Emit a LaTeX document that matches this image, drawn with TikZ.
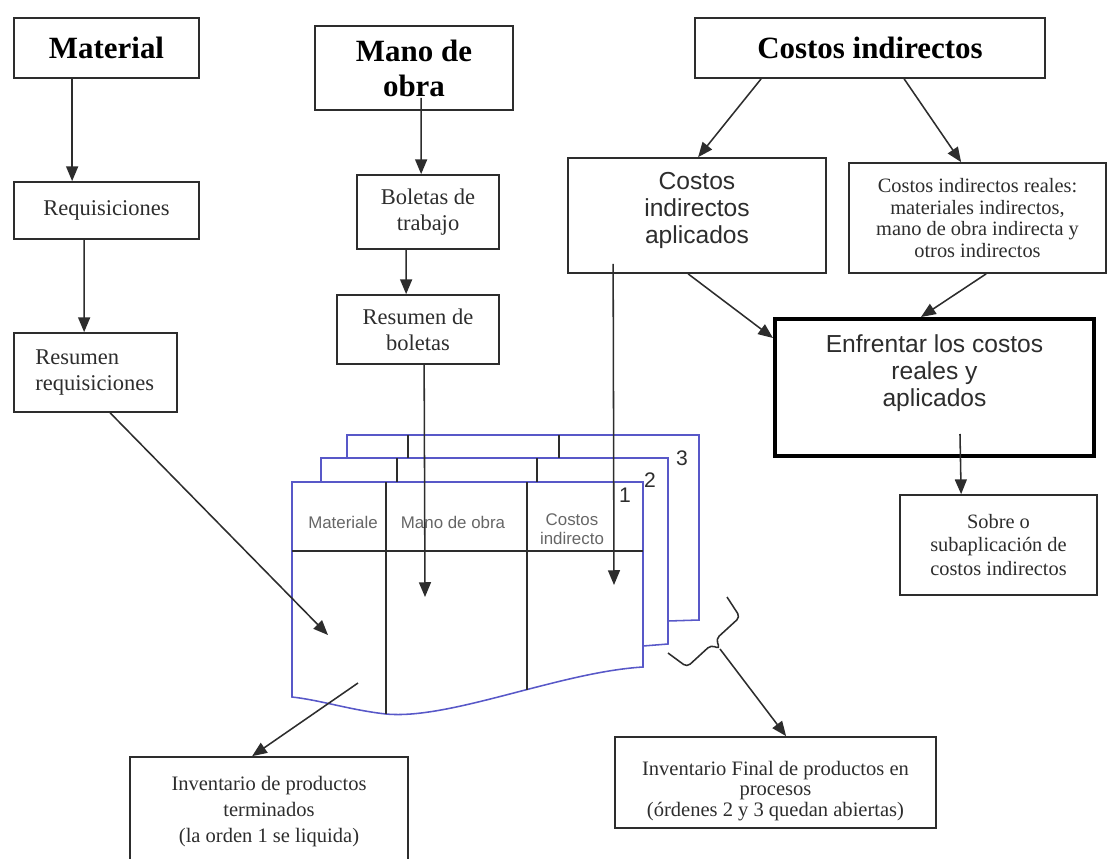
\documentclass[tikz,border=0pt]{standalone}
\usepackage{fontspec}
\setmainfont{Liberation Serif}
\setsansfont{Liberation Sans}
\usetikzlibrary{positioning, arrows.meta, calc}

\definecolor{sheetblue}{RGB}{88,88,200}
\definecolor{ink}{RGB}{45,45,45}

\begin{document}
\begin{tikzpicture}[
        x=0.025cm, y=-0.025cm,
        >={Triangle[length=10.5pt,width=8.5pt]},
        box/.style={rectangle, draw=ink, line width=1.2pt, inner sep=0pt, align=center, text=ink},
        head/.style={box, font=\bfseries\fontsize{22}{25}\selectfont, text=black},
        txt/.style={box, font=\fontsize{16}{18.5}\selectfont},
        small/.style={box, font=\fontsize{14.5}{17}\selectfont},
        sans/.style={box, font=\sffamily\fontsize{17.5}{19}\selectfont},
        arrow/.style={->, draw=ink, line width=1.1pt},
        sheet/.style={draw=sheetblue, line width=1.1pt},
        rule/.style={draw=ink, line width=1.1pt},
        colhead/.style={font=\sffamily\fontsize{12}{13.5}\selectfont, text=black!60, align=center, inner sep=0pt},
        num/.style={font=\sffamily\fontsize{15}{15}\selectfont, text=ink, inner sep=0pt},
    ]
    \useasboundingbox (0,0) rectangle (1113,858);
    \clip (0,0) rectangle (1113,858);

    % Draw the three cost sources and their documents
    \node[head, minimum width=4.625cm, minimum height=1.5cm] (mat) at (106.5,48) {Material};
    \node[txt, minimum width=4.625cm, minimum height=1.425cm] (req) at (106.5,210.5) {Requisiciones};
    \node[txt, minimum width=4.075cm, minimum height=1.975cm, text width=3cm, align=left] (resreq) at (95.5,372.5) {Resumen\\requisiciones};

    \node[head, minimum width=4.95cm, minimum height=2.1cm] (mano) at (414,68) {Mano de\\obra};
    \node[txt, minimum width=3.55cm, minimum height=1.85cm] (bol) at (428,212) {Boletas de\\trabajo};
    \node[txt, minimum width=4.05cm, minimum height=1.725cm] (resbol) at (418,329.5) {Resumen de\\boletas};

    \node[head, minimum width=8.75cm, minimum height=1.5cm] (ci) at (870,48) {Costos indirectos};
    \node[sans, minimum width=6.45cm, minimum height=2.875cm] (cia) at (697,215.5) {Costos\\indirectos\\aplicados\\[-8pt]\mbox{}};
    \node[small, font=\fontsize{14.5}{15.5}\selectfont, minimum width=6.425cm, minimum height=2.75cm] (cir) at (977.5,218) {Costos indirectos reales:\\materiales indirectos,\\mano de obra indirecta y\\otros indirectos};
    \node[sans, line width=2.8pt, draw=black, minimum width=7.975cm, minimum height=3.425cm] (enf) at (934.5,387.5) {Enfrentar los costos\\reales y\\aplicados\\[5pt]\mbox{}};
    \node[small, minimum width=4.925cm, minimum height=2.5cm] (sob) at (998.5,545) {Sobre o\\subaplicación de\\costos indirectos};

    % Draw the inventory boxes
    \node[small, font=\fontsize{14.6}{18.5}\selectfont, minimum width=6.95cm, minimum height=3.075cm] (invt) at (269,818.5) {Inventario de productos\\terminados\\(la orden 1 se liquida)\\[-5pt]\mbox{}};
    \node[small, font=\fontsize{14.6}{14.5}\selectfont, minimum width=8.025cm, minimum height=2.275cm] (invf) at (775.5,782.5) {\rule{0pt}{22pt}Inventario Final de productos en\\procesos\\(órdenes 2 y 3 quedan abiertas)};

    % Draw the stacked order sheets, back to front
    \draw[sheet] (347,458) -- (347,435) -- (699,435) -- (699,620) -- (668,621);
    \draw[sheet] (321,482) -- (321,458) -- (668,458) -- (668,644) -- (643,646);
    \draw[sheet] (292,482) -- (643,482) -- (643,667) .. controls (560,672) and (450,720) .. (386,714) .. controls (350,710) and (320,700) .. (292,697) -- cycle;
    \foreach \x/\ya/\yb in {408/435/458, 559/435/458, 397/458/482, 537/458/482, 386/482/714, 527/482/690}
        \draw[rule] (\x,\ya) -- (\x,\yb);
    \draw[rule] (292,551) -- (643,551);

    \node[colhead] (col-mat) at (343,522) {Materiale};
    \node[colhead] (col-mo) at (453,522) {Mano de obra};
    \node[colhead] (col-ci) at (572,529) {Costos\\indirecto};
    \foreach \n/\x/\y in {1/625/495, 2/650/480, 3/682/458}
        \node[num] (N-\n) at (\x,\y) {\n};

    % Free ends of the connectors on the sheets
    \coordinate (in-mat) at (328,635);
    \coordinate (in-mo) at (425,597);
    \coordinate (in-ci) at (614,585);
    \coordinate (out-1) at (358,683);
    \coordinate (brace-tip) at (720,649);

    % Brace over the open orders 2 and 3
    \draw[rule, rounded corners=3pt] (668,653) -- (687,667) -- (711,645) -- (brace-tip) -- (716,639) -- (740,617) -- (727,597);

    % Connect the boxes
    \draw[arrow] ($(mat.south west)+(59,0)$) -- ($(req.north west)+(59,0)$);
    \draw[arrow] ($(req.south west)+(71,0)$) -- ($(resreq.north west)+(71,0)$);
    \draw[arrow] ($(resreq.south west)+(97,0)$) -- (in-mat);
    \draw[arrow] ($(mano.south west)+(107,-13)$) -- ($(bol.north west)+(65,0)$);
    \draw[arrow] ($(bol.south west)+(50,0)$) -- ($(resbol.north west)+(70,0)$);
    \draw[arrow] ($(resbol.south west)+(88,0)$) -- (in-mo);
    \draw[arrow] ($(ci.south west)+(67,0)$) -- ($(cia.north west)+(131,0)$);
    \draw[arrow] ($(ci.south west)+(210,0)$) -- ($(cir.north west)+(113,0)$);
    \draw[arrow] ($(cia.south west)+(46,-10)$) -- (in-ci);
    \draw[arrow] ($(cia.south west)+(121,0)$) -- ($(enf.north west)+(0,21)$);
    \draw[arrow] ($(cir.south west)+(138,0)$) -- ($(enf.north west)+(148,0)$);
    \draw[arrow] ($(enf.south west)+(187,-24)$) -- ($(sob.north west)+(62,0)$);
    \draw[arrow] (out-1) -- ($(invt.north west)+(123,0)$);
    \draw[arrow] (brace-tip) -- ($(invf.north west)+(172,0)$);
\end{tikzpicture}
\end{document}
